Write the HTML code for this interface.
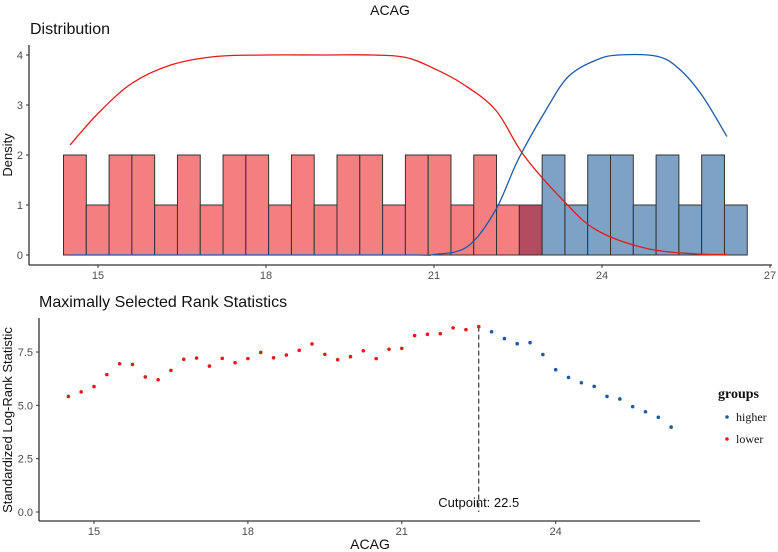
<!DOCTYPE html>
<html><head><meta charset="utf-8"><style>
body{margin:0;background:#fff;}
svg{display:block;font-family:"Liberation Sans",sans-serif;}
</style></head><body>
<svg id="c" width="778" height="552" viewBox="0 0 778 552" xmlns="http://www.w3.org/2000/svg">
<text x="390" y="15" text-anchor="middle" font-size="14" fill="#111">ACAG</text>
<text x="30" y="34" font-size="16" fill="#111">Distribution</text>
<text x="39" y="307" font-size="16" fill="#111">Maximally Selected Rank Statistics</text>
<text transform="translate(12,155) rotate(-90)" text-anchor="middle" font-size="13" fill="#111">Density</text>
<text transform="translate(12,420) rotate(-90)" text-anchor="middle" font-size="13" fill="#111">Standardized Log-Rank Statistic</text>
<text x="370" y="549" text-anchor="middle" font-size="14" fill="#111">ACAG</text>
<g id="top"></g>
<g id="bot"></g>
<g>
<text x="718" y="398" font-family="Liberation Serif,serif" font-weight="bold" font-size="14" fill="#111">groups</text>
<circle cx="727" cy="417" r="1.8" fill="#1f5aa6"/>
<text x="736" y="421" font-family="Liberation Serif,serif" font-size="12" fill="#111">higher</text>
<circle cx="727" cy="439" r="1.8" fill="#e41a1c"/>
<text x="736" y="443" font-family="Liberation Serif,serif" font-size="12" fill="#111">lower</text>
</g>
</svg>
<script>
const binStart = 14.384, binWidth = 0.407;
const binHeights = [2,1,2,2,1,2,1,2,2,1,2,1,2,2,1,2,2,1,2,1,1,2,1,2,2,1,2,1,2,1];
const binGroups = ['l','l','l','l','l','l','l','l','l','l','l','l','l','l','l','l','l','l','l','l','c','h','h','h','h','h','h','h','h','h'];
const curveX = [14.5,15,15.6,16.3,17.1,18,19,19.9,20.5,21,21.5,22.1,22.6,23.3,23.9,24.8,25.7,26.23];
const redCurve = [2.2,2.83,3.43,3.8,3.97,4,4,4,3.95,3.73,3.43,2.9,2.0,1.1,0.5,0.13,0.02,0.01];
const blueX = [14.5,18,20.6,21,21.6,22.1,22.5,23,23.4,23.9,24.3,25,25.4,25.8,26.23];
const blueCurve = [0,0,0,0.01,0.17,0.9,1.9,2.9,3.57,3.9,4,3.97,3.7,3.17,2.37];
const topXTicks = [15,18,21,24,27];
const topYTicks = [0,1,2,3,4];
const statStart = 14.5, statStep = 0.25;
const lowerStats = [5.42,5.63,5.88,6.44,6.95,6.92,6.33,6.2,6.64,7.16,7.22,6.84,7.2,7.0,7.19,7.48,7.23,7.36,7.58,7.88,7.39,7.14,7.28,7.56,7.19,7.63,7.67,8.27,8.33,8.36,8.63,8.55,8.69];
const higherStats = [8.45,8.13,7.89,7.94,7.38,6.67,6.31,6.06,5.89,5.42,5.3,4.94,4.7,4.44,3.98];
const botXTicks = [15,18,21,24];
const botYTicks = [0,2.5,5,7.5];
const botYLabels = ['0.0','2.5','5.0','7.5'];
const cutpoint = 22.5;

const NS='http://www.w3.org/2000/svg';
function mk(tag,attrs,parent){const e=document.createElementNS(NS,tag);for(const k in attrs)e.setAttribute(k,attrs[k]);parent.appendChild(e);return e;}
const tx=v=>98+(v-15)*56, ty=v=>255-v*50;
const bx=v=>94+(v-15)*51.3, by=v=>512-v*21.33;
const topG=document.getElementById('top'), botG=document.getElementById('bot');

binHeights.forEach((h,i)=>{
  const x0=tx(binStart+binWidth*i), x1=tx(binStart+binWidth*(i+1));
  const g=binGroups[i];
  const r=mk('rect',{x:x0,y:ty(h),width:x1-x0,height:ty(0)-ty(h),fill:g==='l'?'#f47f80':g==='h'?'#7ea2c6':'#b24c60',stroke:'#333','stroke-width':1},topG);
  
  
});
function smoothPath(pts){
  let d='M'+pts[0][0]+','+pts[0][1];
  for(let i=0;i<pts.length-1;i++){
    const p0=pts[Math.max(i-1,0)],p1=pts[i],p2=pts[i+1],p3=pts[Math.min(i+2,pts.length-1)];
    const c1x=p1[0]+(p2[0]-p0[0])/6,c1y=p1[1]+(p2[1]-p0[1])/6;
    const c2x=p2[0]-(p3[0]-p1[0])/6,c2y=p2[1]-(p3[1]-p1[1])/6;
    d+=' C'+c1x+','+c1y+' '+c2x+','+c2y+' '+p2[0]+','+p2[1];
  }
  return d;
}
function line(xs,ys,color,name){
  const pts=xs.map((x,i)=>[tx(x),ty(ys[i])]);
  const p=mk('path',{d:smoothPath(pts),fill:'none',stroke:color,'stroke-width':1.3},topG);
  
  
}
line(curveX,redCurve,'#e41a1c','lower-density-curve');
line(blueX,blueCurve,'#1f5aa6','higher-density-curve');
let a=mk('line',{x1:29,y1:45,x2:29,y2:265,stroke:'#333','stroke-width':1.3},topG);


a=mk('line',{x1:29,y1:265,x2:772,y2:265,stroke:'#333','stroke-width':1.3},topG);


topYTicks.forEach(v=>{
  mk('line',{x1:26,x2:29,y1:ty(v),y2:ty(v),stroke:'#333'},topG);
  const t=mk('text',{x:23,y:ty(v)+4,'text-anchor':'end','font-size':11,fill:'#4d4d4d'},topG);
  t.textContent=v;
  
  
});
topXTicks.forEach(v=>{
  mk('line',{x1:tx(v),x2:tx(v),y1:265,y2:268,stroke:'#333'},topG);
  const t=mk('text',{x:tx(v),y:279,'text-anchor':'middle','font-size':11,fill:'#4d4d4d'},topG);
  t.textContent=v;
  
  
});
a=mk('line',{x1:39,y1:318,x2:39,y2:521,stroke:'#333','stroke-width':1.3},botG);


a=mk('line',{x1:39,y1:521,x2:700,y2:521,stroke:'#333','stroke-width':1.3},botG);


botYTicks.forEach((v,i)=>{
  mk('line',{x1:36,x2:39,y1:by(v),y2:by(v),stroke:'#333'},botG);
  const t=mk('text',{x:33,y:by(v)+4,'text-anchor':'end','font-size':11,fill:'#4d4d4d'},botG);
  t.textContent=botYLabels[i];
  
  
});
botXTicks.forEach(v=>{
  mk('line',{x1:bx(v),x2:bx(v),y1:521,y2:524,stroke:'#333'},botG);
  const t=mk('text',{x:bx(v),y:535,'text-anchor':'middle','font-size':11,fill:'#4d4d4d'},botG);
  t.textContent=v;
  
  
});
const cl=mk('line',{x1:bx(cutpoint),x2:bx(cutpoint),y1:by(Math.max(...lowerStats)),y2:by(0),stroke:'#111','stroke-dasharray':'5,3'},botG);


const ct=mk('text',{x:bx(cutpoint),y:507,'text-anchor':'middle','font-size':13,fill:'#111'},botG);
ct.textContent='Cutpoint: '+cutpoint;


lowerStats.forEach((v,i)=>{
  const c=mk('circle',{cx:bx(statStart+statStep*i),cy:by(v),r:1.8,fill:'#e41a1c'},botG);
  
  
});
higherStats.forEach((v,i)=>{
  const c=mk('circle',{cx:bx(statStart+statStep*(lowerStats.length+i)),cy:by(v),r:1.8,fill:'#1f5aa6'},botG);
  
  
});
</script>
</body></html>
